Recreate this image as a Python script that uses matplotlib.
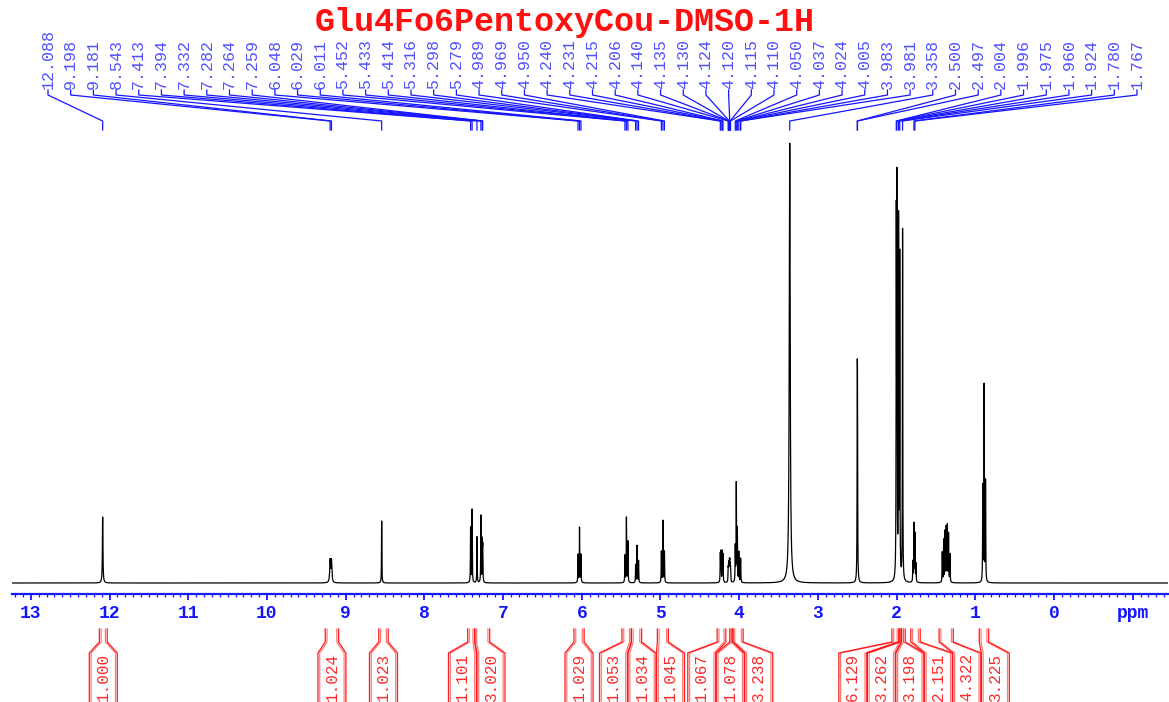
import numpy as np
import matplotlib
matplotlib.use("Agg")
import matplotlib.pyplot as plt
from matplotlib.ticker import MultipleLocator, FuncFormatter

# ---------------------------------------------------------------- data
title = "Glu4Fo6PentoxyCou-DMSO-1H"

# labelled lines (ppm) and their intensities (arbitrary units)
peak_ppm = [12.088, 9.198, 9.181, 8.543, 7.413, 7.394, 7.332, 7.282, 7.264, 7.259,
            6.048, 6.029, 6.011, 5.452, 5.433, 5.414, 5.316, 5.298, 5.279,
            4.989, 4.969, 4.950, 4.240, 4.231, 4.215, 4.206,
            4.140, 4.135, 4.130, 4.124, 4.120, 4.115, 4.110,
            4.050, 4.037, 4.024, 4.005, 3.983, 3.981, 3.358, 2.500, 2.497,
            2.004, 1.996, 1.975, 1.960, 1.924, 1.780, 1.767]
peak_height = [66, 22, 22, 62, 55, 73, 46, 67, 38, 32,
               28, 55, 28, 27, 65, 41, 18, 37, 22,
               31, 62, 31, 28, 30, 30, 27,
               12, 14, 15, 16, 15, 14, 12,
               35, 98, 52, 30, 14, 14, 440, 160, 140,
               345, 378, 355, 320, 352, 58, 48]
peak_hwhm = [0.004, 0.006, 0.006] + [0.0025] * 36 + [0.007] + [0.0025] * 9

# unlabelled lines (pentyl chain multiplets)
extra_ppm = [1.793, 1.754, 1.420, 1.402, 1.385, 1.370, 1.355, 1.340, 1.322,
             0.905, 0.888, 0.870]
extra_height = [20, 18, 30, 42, 50, 54, 56, 48, 28, 95, 196, 100]
extra_hwhm = [0.0025] * 12

# integrals: value, start ppm, end ppm
integ_value = [1.000, 1.024, 1.023, 1.101, 3.020, 1.029, 1.053, 1.034, 1.045,
               1.067, 1.078, 3.238, 6.129, 3.262, 3.198, 2.151, 4.322, 3.225]
integ_from = [12.13, 9.26, 8.58, 7.45, 7.36, 6.10, 5.49, 5.37, 5.04,
              4.28, 4.12, 4.08, 2.06, 1.97, 1.94, 1.82, 1.46, 0.95]
integ_to = [12.03, 9.09, 8.46, 7.36, 7.17, 5.97, 5.37, 5.24, 4.90,
            4.17, 4.08, 3.95, 1.97, 1.94, 1.89, 1.70, 1.28, 0.83]

# ---------------------------------------------------------------- figure
W, H = 1169, 702
fig = plt.figure(figsize=(W / 100, H / 100), dpi=100)
fig.patch.set_facecolor("white")

BLUE = "#1515ff"
LBLUE = "#5050ff"
RED = "#ff1010"
MONO = "Liberation Mono"

# spectrum axes (pixel frame: x 12..1168, spine at y=594, top at y=130)
ax = fig.add_axes([12 / W, (H - 594) / H, 1156 / W, 464 / H])
ax.set_xlim(13.240, -1.4485)
ax.set_ylim(-11, 453)

x = np.linspace(13.24, -1.45, 60000)
spec = np.zeros_like(x)
for p, h, w in zip(peak_ppm + extra_ppm, peak_height + extra_height,
                   peak_hwhm + extra_hwhm):
    spec += h / (1.0 + ((x - p) / w) ** 2)
ax.plot(x, spec, color="black", lw=0.9)

for s in ("left", "right", "top"):
    ax.spines[s].set_visible(False)
ax.spines["bottom"].set_color(BLUE)
ax.spines["bottom"].set_linewidth(1.6)
ax.set_yticks([])
ax.xaxis.set_major_locator(MultipleLocator(1))
ax.xaxis.set_minor_locator(MultipleLocator(0.1))
ax.xaxis.set_major_formatter(
    FuncFormatter(lambda v, _: "ppm" if round(v) == -1 else f"{int(round(v))}"))
ax.tick_params(axis="x", which="major", direction="out", length=4.5, width=1.3,
               color=BLUE, labelcolor=BLUE, pad=3.5)
ax.tick_params(axis="x", which="minor", direction="out", length=2.2, width=0.9,
               color=BLUE)
for lab in ax.get_xticklabels():
    lab.set_fontfamily(MONO)
    lab.set_fontweight("bold")
    lab.set_fontsize(13)

fig.canvas.draw()


def ppm_to_px(p):
    """Horizontal figure pixel of a chemical shift, via the spectrum axes."""
    return ax.transData.transform((p, 0))[0]


# overlay in figure pixels (y downwards) for annotations
ov = fig.add_axes([0, 0, 1, 1], zorder=5)
ov.set_xlim(0, W)
ov.set_ylim(H, 0)
ov.axis("off")
ov.patch.set_alpha(0)

ov.text(565, 31, title, color=RED, fontsize=24, fontfamily=MONO,
        fontweight="bold", ha="center", va="baseline")

# peak pick labels with leader lines
label_x = np.linspace(48, 1137, len(peak_ppm))
for lx, p in zip(label_x, peak_ppm):
    px = ppm_to_px(p)
    ov.text(lx, 89, f"{p:.3f}", rotation=90, ha="center", va="bottom",
            color=LBLUE, fontsize=12, fontfamily=MONO)
    ov.plot([lx, lx, px, px], [90, 95, 121, 130], color=BLUE, lw=0.9)


# integral labels: spread boxes so that they do not overlap
def spread(centers, width):
    order = list(np.argsort(centers))
    groups = [[i] for i in order]
    merged = True
    while merged:
        merged = False
        for k in range(len(groups) - 1):
            a, b = groups[k], groups[k + 1]
            ca = np.mean([centers[i] for i in a])
            cb = np.mean([centers[i] for i in b])
            end_a = ca + (len(a) - 1) * width / 2
            start_b = cb - (len(b) - 1) * width / 2
            if start_b - end_a < width:
                groups[k] = a + b
                del groups[k + 1]
                merged = True
                break
    pos = [0.0] * len(centers)
    for g in groups:
        c = np.mean([centers[i] for i in g])
        for j, i in enumerate(g):
            pos[i] = c + (j - (len(g) - 1) / 2) * width
    return pos


xa = [ppm_to_px(p) for p in integ_from]
xb = [ppm_to_px(p) for p in integ_to]
mid = [(a + b) / 2 for a, b in zip(xa, xb)]
box_c = spread(mid, 28.5)

for v, a, b, c in zip(integ_value, xa, xb, box_c):
    for off, alpha in ((0.0, 0.95), (1.8, 0.55)):
        ov.plot([a + off, a + off, c - 14 + off, c - 14 + off],
                [629, 642, 653, 710], color=RED, lw=0.9, alpha=alpha,
                clip_on=False)
        ov.plot([b - off, b - off, c + 14 - off, c + 14 - off],
                [629, 642, 653, 710], color=RED, lw=0.9, alpha=alpha,
                clip_on=False)
    ov.text(c, 653, f"{v:.3f}", rotation=90, ha="center", va="top",
            color=RED, fontsize=11.5, fontfamily=MONO, alpha=0.9)

fig.savefig("out.png", dpi=100)
